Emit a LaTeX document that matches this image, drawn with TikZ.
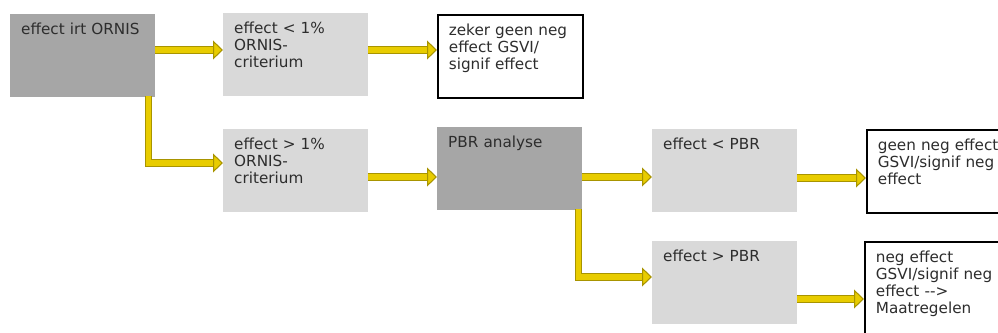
\documentclass[tikz,border=0pt]{standalone}
\usepackage{fontspec}
\setmainfont{DejaVu Sans}
\usetikzlibrary{arrows.meta, calc}
\definecolor{DarkBoxColor}{RGB}{166,166,166}
\definecolor{LightBoxColor}{RGB}{217,217,217}
\definecolor{FlowColor}{RGB}{232,204,0}
\definecolor{FlowEdgeColor}{RGB}{168,148,0}
\definecolor{TextColor}{RGB}{45,45,45}
\tikzstyle{box} = [anchor=north west, text width=3.69cm, align=left, inner xsep=0.33cm, inner ysep=0.27cm, text height=0.35cm, text depth=1.60cm, text=TextColor, font=\fontsize{13pt}{14.5pt}\selectfont]
\tikzstyle{darkbox} = [box, fill=DarkBoxColor]
\tikzstyle{lightbox} = [box, fill=LightBoxColor]
\tikzstyle{endbox} = [box, draw=black, line width=1.5pt, fill=white]
\tikzstyle{flow} = [draw=FlowEdgeColor, line width=0.9pt, double=FlowColor, double distance=4.6pt, -{Triangle[length=0.3cm, width=0.57cm, fill=FlowColor]}]
\begin{document}
\begin{tikzpicture}[x=0.03cm, y=-0.03cm]
            % Beslisschema effect irt ORNIS en PBR
            \useasboundingbox (0,0) rectangle (998,333);
            \clip (0,0) rectangle (998,333);
            \node[darkbox] (irt) at (10,14) {effect irt ORNIS};
            \node[lightbox] (lt1) at (223,13) {effect < 1\%\\ORNIS-\\criterium};
            \node[endbox] (zeker) at (437,14) {zeker geen neg\\effect GSVI/\\signif effect};
            \node[lightbox] (gt1) at (223,129) {effect > 1\%\\ORNIS-\\criterium};
            \node[darkbox] (pbr) at (437,127) {PBR analyse};
            \node[lightbox] (ltpbr) at (652,129) {effect < PBR};
            \node[endbox] (geen) at (866,129) {geen neg effect\\GSVI/signif neg\\effect};
            \node[lightbox] (gtpbr) at (652,241) {effect > PBR};
            \node[endbox, text depth=2.4cm] (neg) at (864,241) {neg effect\\GSVI/signif neg\\effect -{}->\\Maatregelen};
            \draw[flow] (irt.east |- 0,50) -- (lt1.west |- 0,50);
            \draw[flow] (lt1.east |- 0,50) -- (zeker.west |- 0,50);
            \draw[flow] ($(irt.south east)+(-7,-1)$) |- (gt1.west |- 0,163);
            \draw[flow] (gt1.east |- 0,177) -- (pbr.west |- 0,177);
            \draw[flow] (pbr.east |- 0,177) -- (ltpbr.west |- 0,177);
            \draw[flow] ($(pbr.south east)+(-4,-1)$) |- (gtpbr.west |- 0,277);
            \draw[flow] (ltpbr.east |- 0,178) -- (geen.west |- 0,178);
            \draw[flow] (gtpbr.east |- 0,299) -- (neg.west |- 0,299);
        \end{tikzpicture}
\end{document}
